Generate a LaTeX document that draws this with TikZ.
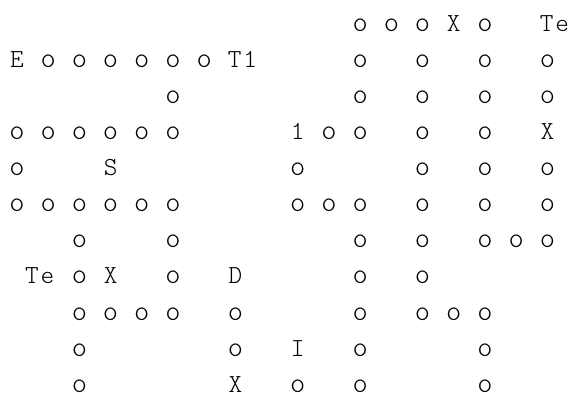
\documentclass[tikz,border=0pt]{standalone}
\usepackage{fontspec}
\newfontfamily\gridfont{lmmonolt10-regular.otf}
\newfontfamily\gridwide{lmmonolt10-regular.otf}[LetterSpace=7.5]

\begin{document}
\begin{tikzpicture}[x=1pt,y=1pt,every node/.style={font=\gridfont\fontsize{26}{28}\selectfont,inner sep=0pt,anchor=base,text=black},
  dot/.style={font=\gridfont\fontsize{29}{31}\selectfont}]
\useasboundingbox (0,0) rectangle (580,-394);

% Circles, row by row (column numbers of the character grid)
\foreach \r/\cols in {0/{22,24,26,30},
  1/{2,4,6,8,10,12,22,26,30,34},
  2/{10,22,26,30,34},
  3/{0,2,4,6,8,10,20,22,26,30},
  4/{0,18,26,30,34},
  5/{0,2,4,6,8,10,18,20,22,26,30,34},
  6/{4,10,22,26,30,32,34},
  7/{4,10,22,26},
  8/{4,6,8,10,14,22,26,28,30},
  9/{4,14,22,30},
  10/{4,18,22,30}}
  \foreach \c in \cols
    \node[dot] (o\r-\c) at ({17+15.6*\c},{-31.2-36.1*\r}) {o};

% Letters
\foreach \r/\c/\t/\n in {0/28/X/labXa, 1/0/E/labE,
  3/18/1/labOne, 3/34/X/labXb, 4/6/S/labS, 7/6/X/labXc,
  7/14/D/labD, 9/18/I/labI, 10/14/X/labXd}
  \node (\n) at ({17+15.6*\c},{-31.2-36.1*\r}) {\t};

% Two-letter labels
\foreach \r/\c/\t/\n in {0/34/Te/labTea, 1/14/T1/labT, 7/1/Te/labTeb}
  \node[anchor=base west,font=\gridwide\fontsize{26}{28}\selectfont] (\n) at ({9.2+15.6*\c},{-31.2-36.1*\r}) {\t};
\end{tikzpicture}
\end{document}
